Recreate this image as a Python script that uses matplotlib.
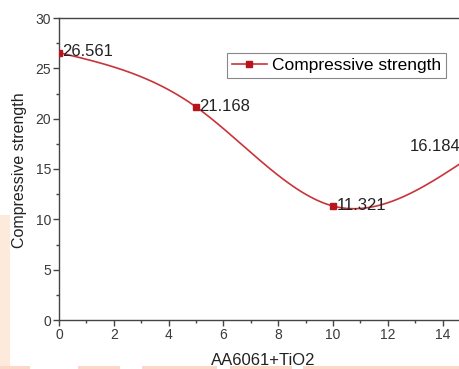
import numpy as np
import matplotlib
matplotlib.use("Agg")
import matplotlib.pyplot as plt
from matplotlib.patches import Rectangle
from matplotlib.ticker import MultipleLocator

plt.rcParams['font.family'] = ['Liberation Sans', 'DejaVu Sans']

# ---- data ----
tio2 = [0, 5, 10, 15]
strength = [26.561, 21.168, 11.321, 16.184]
point_labels = ["26.561", "21.168", "11.321", "16.184"]
x_ticks = [0, 2, 4, 6, 8, 10, 12, 14]
y_ticks = [0, 5, 10, 15, 20, 25, 30]
series_name = "Compressive strength"
x_title = "AA6061+TiO2"
y_title = "Compressive strength"


def natural_spline(xs, ys, n=300):
    """Smooth connecting line (Origin-style spline connection)."""
    xs = np.asarray(xs, float)
    ys = np.asarray(ys, float)
    m = len(xs)
    h = np.diff(xs)
    A = np.zeros((m, m))
    r = np.zeros(m)
    A[0, 0] = 1
    A[-1, -1] = 1
    for i in range(1, m - 1):
        A[i, i - 1] = h[i - 1]
        A[i, i] = 2 * (h[i - 1] + h[i])
        A[i, i + 1] = h[i]
        r[i] = 6 * ((ys[i + 1] - ys[i]) / h[i] - (ys[i] - ys[i - 1]) / h[i - 1])
    M = np.linalg.solve(A, r)
    xx = np.linspace(xs[0], xs[-1], n)
    yy = np.empty_like(xx)
    for k, x in enumerate(xx):
        i = min(np.searchsorted(xs, x, side='right') - 1, m - 2)
        hi = h[i]
        a = xs[i + 1] - x
        b = x - xs[i]
        yy[k] = (M[i] * a ** 3 / (6 * hi) + M[i + 1] * b ** 3 / (6 * hi)
                 + (ys[i] / hi - M[i] * hi / 6) * a
                 + (ys[i + 1] / hi - M[i + 1] * hi / 6) * b)
    return xx, yy


W, H = 460, 369
fig = plt.figure(figsize=(W / 100, H / 100), dpi=100)

# light watermark areas of the source image
peach = "#fdeadb"
fig.add_artist(Rectangle((0, 0), 10 / W, (H - 215) / H, transform=fig.transFigure,
                         facecolor=peach, edgecolor='none', zorder=0))
for x0, x1 in [(0, 30), (78, 120), (142, 217), (230, 292), (303, 460)]:
    fig.add_artist(Rectangle((x0 / W, 0), (x1 - x0) / W, 3 / H, transform=fig.transFigure,
                             facecolor="#fcd6c6", edgecolor='none', zorder=0))

ax = fig.add_axes([59 / W, (H - 320) / H, 411 / W, 302 / H])

line_col = "#c8343a"
mark_col = "#b8141e"
sx, sy = natural_spline(tio2, strength)
ax.plot(sx, sy, color=line_col, lw=1.2, zorder=2)
ax.plot(tio2, strength, linestyle='none', marker='s', markersize=4.5,
        color=mark_col, zorder=3)

# legend proxy
proxy, = ax.plot([], [], color=line_col, lw=1.2, marker='s', markersize=4.5,
                 markerfacecolor=mark_col, markeredgecolor=mark_col, label=series_name)

for i, (xv, yv, lab) in enumerate(zip(tio2, strength, point_labels)):
    if i < len(tio2) - 1:
        ax.annotate(lab, (xv, yv), xytext=(2.5, 0.5), textcoords='offset points',
                    ha='left', va='center', fontsize=12, color='#222222', zorder=4)
    else:
        ax.annotate(lab, (xv, yv), xytext=(-43.5, 7.5), textcoords='offset points',
                    ha='left', va='center', fontsize=12, color='#222222', zorder=4,
                    annotation_clip=False)

ax.set_xlim(0, 15)
ax.set_ylim(0, 30)
ax.set_xticks(x_ticks)
ax.set_yticks(y_ticks)
ax.xaxis.set_minor_locator(MultipleLocator(1))
ax.yaxis.set_minor_locator(MultipleLocator(2.5))
ax.tick_params(which='major', direction='out', length=4, width=1, color='#444444',
               labelsize=10, labelcolor='#3a3a3a', pad=1.5)
ax.tick_params(which='minor', direction='out', length=2, width=1, color='#444444')
for s in ax.spines.values():
    s.set_color('#444444')
    s.set_linewidth(1)

ax.set_xlabel(x_title, fontsize=12, color='#222222')
ax.xaxis.set_label_coords((263 - 59) / 411, (320 - 353) / 302)
ax.set_ylabel(y_title, fontsize=11.5, color='#222222')
ax.yaxis.set_label_coords((27 - 59) / 411, (320 - 170) / 302)

leg = ax.legend(handles=[proxy], loc='upper left',
                bbox_to_anchor=((227 - 59) / 411, (320 - 53) / 302),
                borderaxespad=0, fontsize=12.5, frameon=True, fancybox=False,
                framealpha=1, edgecolor='#888888', handlelength=2.0,
                handletextpad=0.3, borderpad=0.28, numpoints=1)
leg.get_frame().set_linewidth(0.8)

fig.savefig("out.png", dpi=100)
